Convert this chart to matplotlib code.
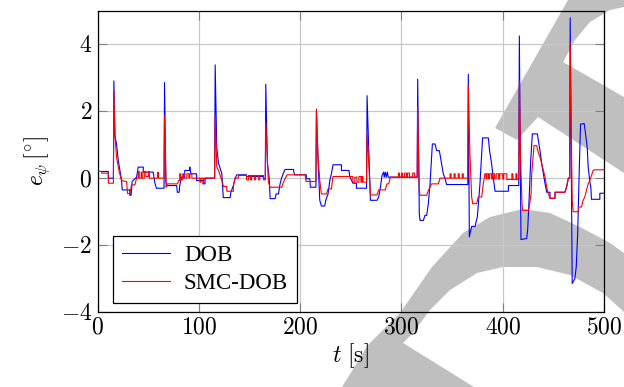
import matplotlib
matplotlib.use("Agg")
import matplotlib.pyplot as plt
from matplotlib.patches import Polygon
from matplotlib.ticker import FuncFormatter, MultipleLocator

plt.rcParams['font.family'] = ['Liberation Serif', 'DejaVu Serif']
plt.rcParams['mathtext.fontset'] = 'cm'

# DOB (blue) - (t, e) breakpoints, one list per 100 s
dob_0_100 = [(0, 0.2), (10.5, 0.2), (10.5, 0.0), (15.5, 0.0),
             (16, 2.9), (17, 1.27), (18.6, 1.02), (20.3, 0.53), (21.9, 0.23), (23.6, -0.07), (24.2, -0.35),
             (31.5, -0.35), (31.8, -0.51), (33, -0.51), (34, -0.1), (38.4, 0.03), (40, 0.33), (45, 0.33),
             (45, 0.18), (54.8, 0.18), (56.5, -0.15), (58, -0.3), (65.5, -0.3),
             (66, 2.85), (67.3, -0.12), (68.6, -0.22), (78, -0.22), (78.6, -0.42), (80.5, -0.42), (81, -0.22),
             (82.8, 0.03), (86, 0.03), (86, 0.23), (90.5, 0.23), (91, 0.33), (92, 0.13), (97.6, 0.13),
             (97.6, -0.07), (104, -0.07), (104, -0.17), (106, -0.17), (106, 0.0), (115.5, 0.0)]
dob_100_200 = [(116, 3.38), (117.6, 0.9), (119.3, 0.45), (120.9, 0.3), (122.6, 0.13), (124, -0.58), (130.8, -0.58),
               (131.5, -0.42), (134, -0.22), (135.7, 0.0), (137.4, 0.1), (147, 0.1), (147, 0.05), (163.7, 0.05),
               (163.7, -0.02), (165.5, -0.02),
               (166, 2.8), (167.6, 0.43), (169.3, 0.03), (170.3, -0.61), (175.2, -0.61), (176.2, -0.47), (178.5, -0.47),
               (180.1, -0.17), (181.8, 0.03), (185, 0.26), (193.3, 0.26), (194.3, 0.1), (206, 0.1), (206, -0.02),
               (209.5, -0.02), (210, -0.27), (215.5, -0.27)]
dob_200_300 = [(216, 2.0), (217.6, 0.52), (219.3, -0.66), (220.9, -0.83), (224.2, -0.83), (225.2, -0.66), (227.5, -0.47),
               (229.2, -0.07), (230.8, 0.13), (232.4, 0.4), (240.7, 0.4), (240.7, 0.23), (248.2, 0.23), (248.9, 0.05),
               (252, -0.15), (255.5, -0.15), (255.5, -0.3), (265.5, -0.3),
               (266, 2.46), (269.3, -0.66), (275.9, -0.66), (277.5, -0.56), (279.2, -0.27), (280.8, 0.08), (282.4, 0.18),
               (283, 0.03), (284, 0.18), (285, 0.03), (286, 0.18), (287, 0.03), (289, 0.03), (315.5, 0.03)]
dob_300_400 = [(316, 2.95), (317.6, -1.06), (318.3, -1.26), (321.6, -1.26), (323.2, -1.11), (324.9, -1.11), (326.5, -0.76),
               (328.2, -0.17), (330.5, 1.02), (333.1, 1.02), (334.8, 0.82), (337.4, 0.82), (339.7, 0.42), (341.3, 0.13),
               (343, 0.0), (344.5, -0.19), (365.5, -0.19),
               (366, 3.1), (367, -1.75), (369.3, -1.44), (372.6, -1.44), (374.9, -1.16), (377.5, -0.17), (380.1, 1.2),
               (385.8, 1.2), (387, 0.82), (389, 0.43), (390.5, 0.05), (392.4, -0.39), (405.6, -0.39), (405.6, -0.22),
               (415.8, -0.22)]
dob_400_500 = [(416.4, 4.24), (418, -1.83), (423.6, -1.8), (424.6, -1.55), (426, -0.66), (427.6, 0.52), (429.2, 1.32),
               (434.2, 1.32), (435.2, 1.12), (436.8, 0.82), (438.5, 0.43), (440.1, 0.13), (441.8, -0.17), (443.4, -0.42),
               (446.7, -0.42), (446.7, -0.6), (451.6, -0.6), (451.6, -0.42), (461.4, -0.42), (463, -0.27), (464.8, 0.0),
               (466.1, 0.0),
               (466.6, 4.78), (468, -0.66), (468.6, -3.14), (471.2, -3.0), (472.6, -2.64), (474, -1.66), (475.3, -0.07),
               (476.8, 1.61), (480.4, 1.63), (481.8, 1.32), (483.4, 0.92), (484.4, 0.33), (485.8, -0.07), (487, -0.27),
               (487.6, -0.63), (495.9, -0.63), (495.9, -0.45), (500, -0.45)]

# SMC-DOB (red)
smc_0_100 = [(0, 0.2), (4, 0.2), (4, 0.15), (10.5, 0.15), (10.5, -0.15), (15.5, -0.15),
             (16, 2.6), (17, 1.3), (18.6, 0.62), (21.3, 0.18), (23.6, -0.07), (28.5, -0.1), (29.5, -0.46), (31.8, -0.46),
             (33.4, -0.2), (36.7, -0.2), (38.4, 0.0), (40, 0.0), (40, 0.2), (41, 0.2), (41, 0.0), (43, 0.0), (43, 0.18),
             (44, 0.18), (44, 0.0), (46, 0.0), (46, 0.2), (47.5, 0.2), (47.5, 0.05), (50, 0.05), (50, 0.2), (51, 0.2),
             (51, 0.0), (59, 0.0), (59, 0.17), (60, 0.17), (60, 0.0), (65.5, 0.0),
             (66, 1.86), (67.6, -0.27), (68.3, -0.17), (78.8, -0.17), (79.8, -0.07), (81, -0.07), (81, 0.13), (82, 0.13),
             (82, -0.05), (84, -0.05), (84, 0.13), (85, 0.13), (85, 0.0), (88, 0.0), (88, 0.13), (90, 0.13), (90, 0.0),
             (91, 0.0), (91, 0.13), (93, 0.13), (93, 0.0), (101, 0.0), (101, -0.12), (102, -0.12), (102, 0.0),
             (104, 0.0), (104, -0.12), (105, -0.12), (105, 0.0), (115.5, 0.0)]
smc_100_200 = [(116, 1.86), (117.6, 0.33), (119.3, 0.23), (120.9, 0.08), (122.6, -0.07), (124.2, -0.25), (127.5, -0.25),
               (127.5, -0.39), (134, -0.39), (134, -0.22), (135.7, 0.0), (139, 0.0), (139, 0.08), (147, 0.08),
               (147, -0.05), (149, -0.05), (149, 0.08), (151, 0.08), (151, -0.05), (152, -0.05), (152, 0.08),
               (155, 0.08), (155, -0.05), (156, -0.05), (156, 0.08), (159, 0.08), (159, -0.05), (160, -0.05),
               (160, 0.08), (163.7, 0.08), (163.7, -0.05), (165.5, -0.05),
               (166, 1.66), (168.6, -0.12), (170.3, -0.27), (181.8, -0.27), (183.4, -0.12), (186.7, 0.08), (187, 0.1),
               (204.8, 0.1), (205.8, -0.1), (215.5, -0.1)]
smc_200_300 = [(216, 2.06), (217.6, 0.62), (219.3, -0.07), (220.9, -0.47), (225.9, -0.47), (227.5, -0.32), (230.8, -0.32),
               (232.4, 0.05), (252, 0.05), (252, -0.12), (254, -0.12), (254, 0.03), (256, 0.03), (256, -0.12),
               (258, -0.12), (258, 0.05), (260, 0.05), (260, -0.12), (261, -0.12), (261, 0.05), (262, 0.05),
               (262, -0.12), (265.5, -0.12),
               (266, 1.32), (267, 0.82), (269.3, -0.47), (270, -0.5), (275.9, -0.5), (277.5, -0.35), (284, -0.35),
               (285.7, -0.17), (287.4, -0.17), (289, 0.03), (297, 0.03), (297, 0.15), (298, 0.15), (298, 0.03),
               (300, 0.03), (300, 0.15), (301, 0.15), (301, 0.03), (303, 0.03), (303, 0.15), (305, 0.15), (305, 0.03),
               (306, 0.03), (306, 0.15), (308, 0.15), (308, 0.03), (311, 0.03), (311, 0.15), (313, 0.15), (313, 0.03),
               (315.5, 0.03)]
smc_300_400 = [(316, 2.11), (317.6, -0.37), (318.3, -0.51), (324.9, -0.51), (326.5, -0.37), (329.8, -0.17), (336.4, -0.17),
               (338, 0.0), (348, 0.0), (348, 0.13), (349, 0.13), (349, 0.0), (352, 0.0), (352, 0.13), (353, 0.13),
               (353, 0.0), (356, 0.0), (356, 0.13), (357, 0.13), (357, 0.0), (360, 0.0), (360, 0.13), (361, 0.13),
               (361, 0.0), (365.5, 0.0),
               (366, 2.75), (367.6, 0.72), (369.3, -0.56), (370.3, -0.76), (374.2, -0.76), (375.9, -0.56), (379.2, -0.56),
               (380.8, -0.17), (382.4, 0.13), (383.5, 0.13), (383.5, -0.02), (384.5, -0.02), (384.5, 0.13), (386, 0.13),
               (386, -0.02), (387, -0.02), (387, 0.13), (389, 0.13), (389, -0.02), (390, -0.02), (390, 0.13),
               (392, 0.13), (392, -0.02), (393.5, -0.02), (393.5, 0.13), (396, 0.13), (396, -0.03), (397, -0.03),
               (397, 0.13), (400, 0.13), (400, -0.03), (401, -0.03), (401, 0.13), (404, 0.13), (404, -0.04),
               (409, -0.04), (409, 0.13), (410, 0.13), (410, -0.04), (413, -0.04), (413, 0.13), (414, 0.13),
               (414, -0.04), (416, -0.04)]
smc_400_500 = [(416.4, 2.9), (417.5, 0.72), (419, -0.76), (419.6, -0.96), (425.5, -0.96), (426.3, -0.81), (428, -0.47),
               (428.6, 0.13), (430.9, 0.97), (433.5, 0.97), (435.1, 0.77), (436.8, 0.62), (438.5, 0.43), (440.1, 0.23),
               (441.8, 0.03), (443.4, -0.27), (445, -0.46), (446.7, -0.6), (451.6, -0.6), (451.6, -0.42), (461.4, -0.42),
               (463, -0.27), (464.8, 0.0), (466.1, 0.0),
               (466.6, 4.04), (468.6, -0.66), (469.6, -1.0), (474.5, -1.0), (475.1, -0.86), (477.8, -0.86),
               (479.4, -0.66), (481, -0.56), (482.7, -0.37), (484.4, -0.17), (486, -0.07), (487.6, 0.08),
               (489.3, 0.23), (490.9, 0.25), (500, 0.25)]

# gray overlay shapes seen in the picture (pixel coords, y down)
shape_top = [(568, 0), (495, 128), (517, 140), (538, 117), (624, 173), (624, 97), (563, 62),
             (575, 40), (590, 22), (610, 10), (624, 7), (624, 0)]
shape_bottom = [(342, 387), (368, 345), (400, 313), (432, 267), (463, 233), (490, 217), (523, 209),
                (550, 213), (580, 227), (610, 243), (624, 253), (624, 312), (603, 293), (570, 275),
                (537, 267), (503, 267), (477, 273), (450, 290), (430, 310), (413, 333), (403, 343), (474, 387)]

dob = dob_0_100 + dob_100_200 + dob_200_300 + dob_300_400 + dob_400_500
smc = smc_0_100 + smc_100_200 + smc_200_300 + smc_300_400 + smc_400_500

W, H = 624, 387
fig = plt.figure(figsize=(W / 100, H / 100), dpi=100)
for shp in (shape_top, shape_bottom):
    pts = [(x / W, 1 - y / H) for x, y in shp]
    fig.patches.append(Polygon(pts, closed=True, transform=fig.transFigure,
                               facecolor='#bfbfbf', edgecolor='none', zorder=-5))

ax = fig.add_axes([97.7 / W, 1 - 312.3 / H, (604 - 97.7) / W, (312.3 - 10.5) / H])
ax.set_facecolor('none')

ax.plot([p[0] for p in dob], [p[1] for p in dob], color='blue', lw=0.8, label='DOB', zorder=3)
ax.plot([p[0] for p in smc], [p[1] for p in smc], color='red', lw=0.8, label='SMC-DOB', zorder=4)

ax.set_xlim(0, 500)
ax.set_ylim(-4, 5)
ax.xaxis.set_major_locator(MultipleLocator(100))
ax.yaxis.set_major_locator(MultipleLocator(2))
fmt = FuncFormatter(lambda v, p: '$%d$' % round(v))
ax.xaxis.set_major_formatter(fmt)
ax.yaxis.set_major_formatter(fmt)
ax.grid(True, color='#c8c8c8', lw=0.9)
ax.set_axisbelow(True)
ax.tick_params(direction='in', length=6.5, width=0.8, color='#808080',
               top=True, right=True, labelsize=17, pad=4)
for s in ax.spines.values():
    s.set_color('black')
    s.set_linewidth(0.9)

ax.set_xlabel(r'$t\ [\mathrm{s}]$', fontsize=17, labelpad=2)
ax.set_ylabel(r'$e_{\psi}\,[^{\circ}]$', fontsize=17, labelpad=6)

leg = ax.legend(loc='lower left', bbox_to_anchor=(0.03, 0.03), fontsize=16.5,
                handlelength=2.1, fancybox=False, framealpha=1, edgecolor='black',
                borderpad=0.4, labelspacing=0.3, handletextpad=0.6, borderaxespad=0)
leg.get_frame().set_linewidth(0.9)

fig.savefig('out.png', dpi=100)
